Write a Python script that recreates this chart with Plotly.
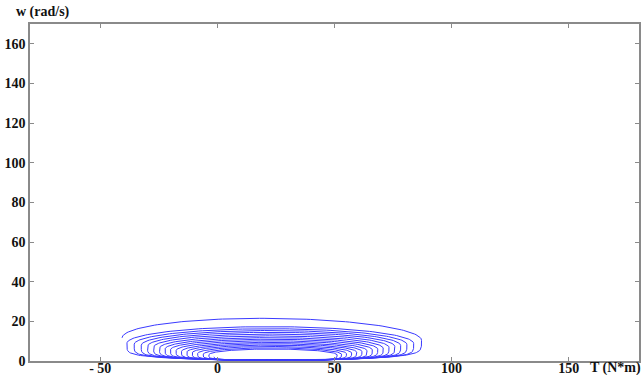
import numpy as np
import plotly.graph_objects as go

# Loop parameters (outer -> inner), T in N*m, w in rad/s
loop_left = [-40.7, -38.6, -35.5, -32.5, -29.8, -27.2, -24.7, -22.3, -20.0, -17.6, -15.3, -13.0, -10.7, -8.4, -6.0, -3.6, -1.5]
loop_right = [89.0, 85.3, 82.3, 79.5, 77.0, 74.5, 72.0, 69.6, 67.3, 65.0, 62.8, 60.6, 58.4, 56.2, 54.0, 52.0, 50.3]
loop_top = [22.8, 17.6, 16.5, 15.6, 14.7, 13.8, 12.9, 12.0, 11.2, 10.4, 9.6, 8.9, 8.2, 7.5, 6.8, 6.2, 5.6]
loop_bottom = [0.6, 0.5, 0.5, 0.4, 0.4, 0.4, 0.3, 0.3, 0.3, 0.3, 0.2, 0.2, 0.2, 0.2, 0.2, 0.2, 0.2]

x_ticks = [-50, 0, 50, 100, 150]
x_tick_text = ["- 50", "0", "50", "100", "150"]
y_ticks = [0, 20, 40, 60, 80, 100, 120, 140, 160]

# build a continuous spiral through the loops
xs, ys = [], []
n = len(loop_left)
for i in range(n - 1):
    t = np.linspace(0, 1, 200, endpoint=False)
    ang = 2 * np.pi * t  # start at leftmost point, go over top
    L = np.interp(t, [0, 1], [loop_left[i], loop_left[i + 1]])
    R = np.interp(t, [0, 1], [loop_right[i], loop_right[i + 1]])
    Tp = np.interp(t, [0, 1], [loop_top[i], loop_top[i + 1]])
    B = np.interp(t, [0, 1], [loop_bottom[i], loop_bottom[i + 1]])
    cx = (L + R) / 2
    a = (R - L) / 2
    cy = (Tp + B) / 2
    b = (Tp - B) / 2
    s = np.sin(ang)
    x = cx - a * np.cos(ang)
    y = np.where(s >= 0, cy + b * s, cy - b * np.abs(s) ** 0.35)
    xs.extend(x.tolist())
    ys.extend(y.tolist())

fig = go.Figure()
fig.add_trace(go.Scatter(x=xs, y=ys, mode="lines",
                         line=dict(color="#3a3aff", width=1), hoverinfo="skip"))

font = dict(family="Liberation Serif", size=14, color="#111111")
axis_common = dict(showgrid=False, zeroline=False, showline=True, linecolor="#8a8a8a",
                   linewidth=1.5, ticks="inside", ticklen=4, tickcolor="#8a8a8a",
                   mirror="ticks", tickfont=font, automargin=False)
fig.update_layout(
    width=644, height=375,
    margin=dict(l=30, r=5, t=24, b=14),
    plot_bgcolor="white", paper_bgcolor="white",
    showlegend=False,
    xaxis=dict(range=[-80, 180], tickvals=x_ticks, ticktext=[f"<b>{t}</b>" for t in x_tick_text],
               ticklabelstandoff=-7, **axis_common),
    yaxis=dict(range=[0, 170], tickvals=y_ticks, ticktext=[f"<b>{v}</b>" for v in y_ticks], **axis_common),
    annotations=[
        dict(text="<b>T (N*m)</b>", xref="paper", yref="paper", x=1.007, y=-0.021,
             xanchor="right", yanchor="middle", showarrow=False, font=font),
        dict(text="<b>w (rad/s)</b>", xref="paper", yref="paper", x=0.021, y=1.035,
             xanchor="center", yanchor="middle", showarrow=False, font=font),
    ],
)
fig.write_html("out.html", config={"displayModeBar": False},
               post_script="document.body.style.margin='0';document.body.style.overflow='hidden';")
